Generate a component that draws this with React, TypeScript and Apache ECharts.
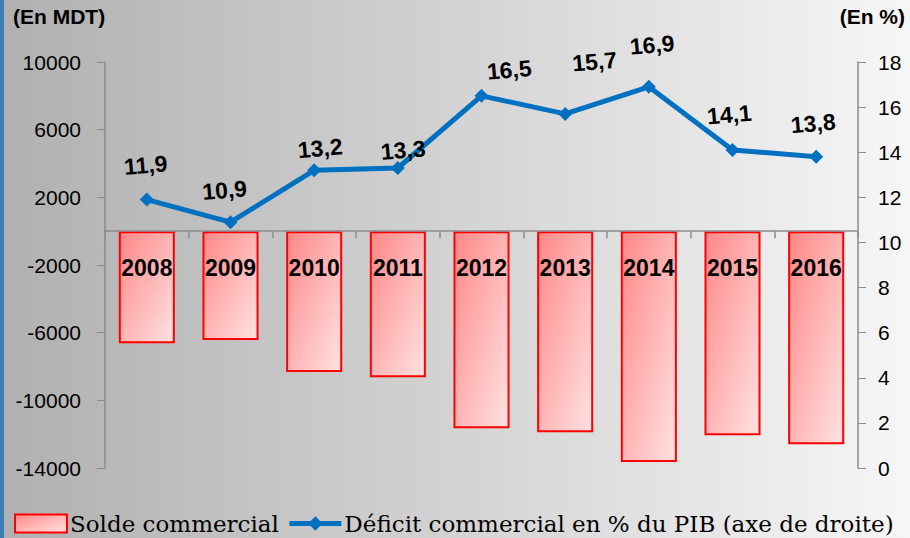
import React, { useEffect, useRef } from "react";
import * as echarts from "echarts";

const years = ["2008", "2009", "2010", "2011", "2012", "2013", "2014", "2015", "2016"];
const solde = [-6620, -6440, -8330, -8630, -11650, -11880, -13650, -12060, -12590];
const deficitPct = [11.9, 10.9, 13.2, 13.3, 16.5, 15.7, 16.9, 14.1, 13.8];
const leftTicks = { min: -14000, max: 10000, interval: 4000 };
const rightTicks = { min: 0, max: 18, interval: 2 };

// label nudges (style only), matching the reference's hand-placed labels
const labelNudges: [number, number][] = [
  [1, -13], [-4, -11], [7, 0], [6, 4], [29, -2], [33, -28], [6, -20], [-1, -14], [-1, -12],
];

const SANS = '"Liberation Sans", Arial, sans-serif';
const SERIF = '"DejaVu Serif", "Liberation Serif", serif';

export default function App() {
  const ref = useRef<HTMLDivElement>(null);
  useEffect(() => {
    const chart = echarts.init(ref.current!, null, { renderer: "svg" });
    chart.setOption({
      animation: false,
      backgroundColor: new echarts.graphic.LinearGradient(0, 0, 1, 0, [
        { offset: 0, color: "#b0b0b0" },
        { offset: 1, color: "#f6f6f6" },
      ]),
      graphic: [
        { type: "rect", left: 0, top: 0, shape: { width: 4, height: 538 }, style: { fill: "#3b7cb4" } },
        { type: "text", left: 13, top: 6, style: { text: "(En MDT)", font: `bold 21px ${SANS}`, fill: "#000" } },
        { type: "text", right: 5, top: 6, style: { text: "(En %)", font: `bold 21px ${SANS}`, fill: "#000" } },
      ],
      legend: {
        bottom: 3,
        left: 14,
        width: 896,
        padding: 0,
        itemGap: 8,
        itemWidth: 52,
        itemHeight: 18,
        textStyle: { fontFamily: SERIF, fontSize: 23, color: "#000", padding: [0, 0, 0, -2] },
        data: [
          { name: "Solde commercial", icon: "rect" },
          { name: "Déficit commercial en % du PIB (axe de droite)", lineStyle: { width: 5 } },
        ],
      },
      grid: { left: 105, right: 52, top: 62, bottom: 70 },
      xAxis: {
        type: "category",
        data: years,
        axisLine: { onZero: true, onZeroAxisIndex: 0, lineStyle: { color: "#8c8c8c", width: 1.5 } },
        axisTick: { show: true, length: 7, inside: false, lineStyle: { color: "#8c8c8c", width: 1.5 } },
        axisLabel: { show: false },
        z: 10,
      },
      yAxis: [
        {
          type: "value",
          ...leftTicks,
          splitLine: { show: false },
          axisLine: { show: true, lineStyle: { color: "#8c8c8c", width: 1.5 } },
          axisTick: { show: true, length: 8, lineStyle: { color: "#8c8c8c" } },
          axisLabel: {
            fontFamily: SANS, fontSize: 21, color: "#000", margin: 24,
            formatter: (v: number) => String(v),
          },
        },
        {
          type: "value",
          ...rightTicks,
          splitLine: { show: false },
          axisLine: { show: true, lineStyle: { color: "#8c8c8c", width: 1.5 } },
          axisTick: { show: true, length: 8, lineStyle: { color: "#8c8c8c" } },
          axisLabel: { fontFamily: SANS, fontSize: 21, color: "#000", margin: 20 },
        },
      ],
      series: [
        {
          name: "Solde commercial",
          type: "bar",
          yAxisIndex: 0,
          data: solde,
          barWidth: "67%",
          itemStyle: {
            color: new echarts.graphic.LinearGradient(0, 0, 1, 1, [
              { offset: 0, color: "#ff8787" },
              { offset: 1, color: "#ffe2e2" },
            ]),
            borderColor: "#ff0000",
            borderWidth: 2,
          },
          label: {
            show: true,
            position: "insideTop",
            distance: 25,
            fontFamily: SANS,
            fontWeight: "bold",
            fontSize: 23,
            color: "#000",
            formatter: (p: any) => p.name,
          },
        },
        {
          name: "Déficit commercial en % du PIB (axe de droite)",
          type: "line",
          yAxisIndex: 1,
          data: deficitPct.map((v, i) => ({
            value: v,
            label: { offset: labelNudges[i] },
          })),
          symbol: "diamond",
          symbolSize: 14,
          lineStyle: { color: "#0070c0", width: 5 },
          itemStyle: { color: "#0070c0" },
          label: {
            show: true,
            position: "top",
            distance: 3,
            rotate: 5,
            fontFamily: SANS,
            fontWeight: "bold",
            fontSize: 23,
            color: "#000",
            formatter: (p: any) => String(p.value).replace(".", ","),
          },
        },
      ],
    });
    return () => chart.dispose();
  }, []);
  return <div ref={ref} style={{ position: "fixed", left: 0, top: 0, width: 910, height: 538 }} />;
}
